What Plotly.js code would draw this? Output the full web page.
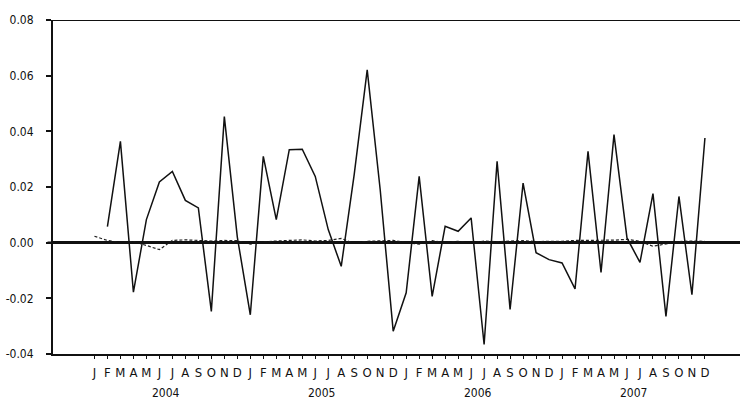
<!DOCTYPE html>
<html>
<head>
<meta charset="utf-8">
<script src="https://cdn.plot.ly/plotly-3.0.1.min.js"></script>
<style>
html,body{margin:0;padding:0;background:#fff;}
#chart{width:740px;height:399px;}
</style>
</head>
<body>
<div id="chart"></div>
<script>
// Month index 0 = Jan 2004 ... 47 = Dec 2007
var monthLetters = ["J","F","M","A","M","J","J","A","S","O","N","D"];
var years = ["2004","2005","2006","2007"];
var yTickVals = [-0.04, -0.02, 0.00, 0.02, 0.04, 0.06, 0.08];
var yTickText = ["-0.04", "-0.02", "0.00", "0.02", "0.04", "0.06", "0.08"];

var solidSeries = [
  null, 0.0058, 0.0364, -0.0178, 0.0083, 0.0218, 0.0256, 0.0152, 0.0125, -0.0247, 0.0453, 0.0020,
  -0.0259, 0.0310, 0.0083, 0.0334, 0.0336, 0.0238, 0.0047, -0.0085, 0.0245, 0.0621, 0.0190, -0.0318,
  -0.0180, 0.0238, -0.0193, 0.0059, 0.0041, 0.0089, -0.0366, 0.0292, -0.0240, 0.0214, -0.0036, -0.0061,
  -0.0073, -0.0166, 0.0328, -0.0107, 0.0388, 0.0017, -0.0071, 0.0176, -0.0265, 0.0166, -0.0187, 0.0376
];

var dashedSeries = [
  0.0023, 0.0008, 0.0000, 0.0004, -0.0010, -0.0025, 0.0008, 0.0010, 0.0008, 0.0006, 0.0008, 0.0007,
  -0.0005, 0.0002, 0.0006, 0.0008, 0.0010, 0.0006, 0.0008, 0.0015, -0.0003, 0.0005, 0.0007, 0.0008,
  0.0000, -0.0005, 0.0007, 0.0000, 0.0005, -0.0003, 0.0006, 0.0003, 0.0006, 0.0007, 0.0004, 0.0004,
  0.0005, 0.0008, 0.0008, 0.0010, 0.0009, 0.0012, 0.0005, -0.0013, -0.0005, 0.0004, 0.0006, 0.0005
];

var xIdx = [], tickText = [];
for (var y = 0; y < years.length; y++) {
  for (var m = 0; m < 12; m++) {
    xIdx.push(y * 12 + m);
    tickText.push(monthLetters[m]);
  }
}

var font = "'Liberation Sans Narrow', 'DejaVu Sans Condensed', 'Liberation Sans', Arial, sans-serif";

var traces = [
  {
    x: xIdx, y: dashedSeries, type: 'scatter', mode: 'lines',
    line: {color: '#222', width: 1.2, dash: '3px,2px'},
    hoverinfo: 'skip', showlegend: false
  },
  {
    x: xIdx, y: solidSeries, type: 'scatter', mode: 'lines',
    line: {color: '#111', width: 1.5},
    connectgaps: false, hoverinfo: 'skip', showlegend: false
  }
];

var annotations = years.map(function (yr, i) {
  return {
    x: i * 12 + 5.5, xref: 'x', y: -0.117, yref: 'paper',
    text: yr, showarrow: false, xanchor: 'center', yanchor: 'middle',
    font: {family: font, size: 12, color: '#111'}
  };
});

var layout = {
  width: 740, height: 399,
  margin: {l: 53, r: 0, t: 20, b: 45},
  paper_bgcolor: '#fff', plot_bgcolor: '#fff',
  showlegend: false,
  xaxis: {
    range: [-3.19, 49.7],
    tickvals: xIdx, ticktext: tickText,
    ticks: 'outside', ticklen: 3, tickwidth: 1, tickcolor: '#111',
    showline: true, linecolor: '#111', linewidth: 2,
    showgrid: false, zeroline: false,
    tickfont: {family: font, size: 13, color: '#111'},
    tickangle: 0,
    ticklabelstandoff: 2
  },
  yaxis: {
    range: [-0.04, 0.08],
    tickvals: yTickVals, ticktext: yTickText,
    ticks: 'outside', ticklen: 5, tickwidth: 2, tickcolor: '#111',
    showline: true, linecolor: '#111', linewidth: 2,
    showgrid: false,
    zeroline: true, zerolinecolor: '#111', zerolinewidth: 2.5,
    tickfont: {family: font, size: 12, color: '#111'},
    ticklabelstandoff: 10
  },
  shapes: [
    {type: 'line', xref: 'paper', yref: 'y', x0: -0.008, x1: 1, y0: 0.08, y1: 0.08,
     line: {color: '#111', width: 2}},
    {type: 'line', xref: 'paper', yref: 'y', x0: -0.008, x1: 1, y0: 0, y1: 0,
     line: {color: '#111', width: 2.5}, layer: 'above'}
  ],
  annotations: annotations
};

Plotly.newPlot('chart', traces, layout, {staticPlot: true, displayModeBar: false});
</script>
</body>
</html>
